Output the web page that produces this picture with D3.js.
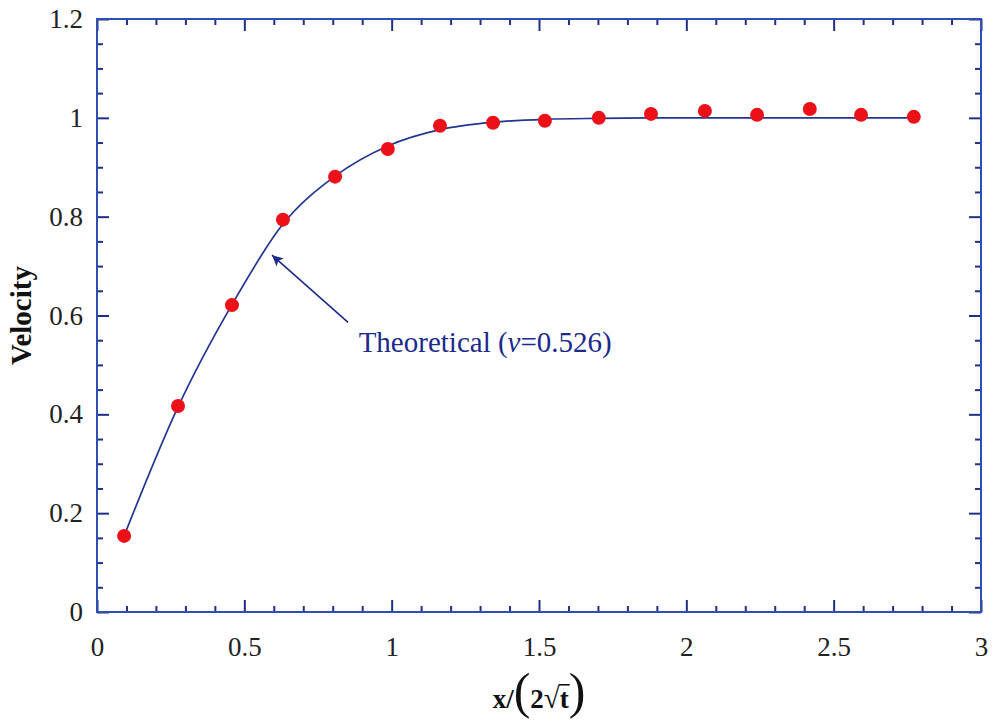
<!DOCTYPE html>
<html>
<head>
<meta charset="utf-8">
<script src="https://cdn.jsdelivr.net/npm/d3@7"></script>
<style>
  body { margin: 0; background: #fff; }
  svg { display: block; }
  .tick text { font-family: "Liberation Serif", "Times New Roman", serif; fill: #222; }
</style>
</head>
<body>
<div id="chart"></div>
<script>
// measured points
var measX = [0.092, 0.275, 0.458, 0.631, 0.808, 0.987, 1.164, 1.344, 1.520, 1.703, 1.880, 2.063, 2.240, 2.419, 2.593, 2.772];
var measY = [0.154, 0.417, 0.621, 0.794, 0.881, 0.937, 0.984, 0.990, 0.994, 1.000, 1.008, 1.014, 1.006, 1.018, 1.006, 1.002];

// theoretical curve
var theoX = [0.092, 0.275, 0.458, 0.631, 0.808, 0.987, 1.164, 1.344, 1.520, 1.703, 1.880, 2.063, 2.240, 2.419, 2.593, 2.772];
var theoY = [0.154, 0.415, 0.622, 0.785, 0.882, 0.943, 0.976, 0.991, 0.997, 0.999, 1.000, 1.000, 1.000, 1.000, 1.000, 1.000];

var xMajor = [0, 0.5, 1, 1.5, 2, 2.5, 3];
var xMinor = [0.1, 0.2, 0.3, 0.4, 0.6, 0.7, 0.8, 0.9, 1.1, 1.2, 1.3, 1.4, 1.6, 1.7, 1.8, 1.9, 2.1, 2.2, 2.3, 2.4, 2.6, 2.7, 2.8, 2.9];
var yMajor = [0, 0.2, 0.4, 0.6, 0.8, 1, 1.2];
var yMinor = [0.05, 0.1, 0.15, 0.25, 0.3, 0.35, 0.45, 0.5, 0.55, 0.65, 0.7, 0.75, 0.85, 0.9, 0.95, 1.05, 1.1, 1.15];

var W = 998, H = 725;
var MARGIN = {top: 19, right: 17, bottom: 113, left: 97},
    WIDTH = W - MARGIN.left - MARGIN.right,
    HEIGHT = H - MARGIN.top - MARGIN.bottom;

var FRAME = "#2f4fb0", TICK = "#1f2f85", NAVY = "#1c2a8c";

var svg = d3.select("#chart").append("svg")
  .attr("width", W).attr("height", H);

var g = svg.append("g")
  .attr("transform", "translate(" + MARGIN.left + "," + MARGIN.top + ")");

var x = d3.scaleLinear().domain([0, 3]).range([0, WIDTH]);
var y = d3.scaleLinear().domain([0, 1.2]).range([HEIGHT, 0]);

function styleAxis(sel, fs) {
  sel.select(".domain").remove();
  sel.selectAll(".tick line").attr("stroke", TICK).attr("stroke-width", 2);
  sel.selectAll(".tick text").style("font-size", fs + "px");
}

// major ticks with labels
g.append("g").attr("transform", "translate(0," + HEIGHT + ")")
  .call(d3.axisBottom(x).tickValues(xMajor).tickSizeInner(-12).tickSizeOuter(0).tickPadding(25)
    .tickFormat(function(d) { return d; }))
  .call(styleAxis, 27);
g.append("g")
  .call(d3.axisLeft(y).tickValues(yMajor).tickSizeInner(-12).tickSizeOuter(0).tickPadding(14)
    .tickFormat(function(d) { return d; }))
  .call(styleAxis, 27);
// mirrored major ticks
g.append("g")
  .call(d3.axisTop(x).tickValues(xMajor).tickSizeInner(-12).tickSizeOuter(0).tickFormat(""))
  .call(styleAxis, 1);
g.append("g").attr("transform", "translate(" + WIDTH + ",0)")
  .call(d3.axisRight(y).tickValues(yMajor).tickSizeInner(-12).tickSizeOuter(0).tickFormat(""))
  .call(styleAxis, 1);
// minor ticks on all four sides
g.append("g").attr("transform", "translate(0," + HEIGHT + ")")
  .call(d3.axisBottom(x).tickValues(xMinor).tickSizeInner(-6).tickSizeOuter(0).tickFormat(""))
  .call(styleAxis, 1);
g.append("g")
  .call(d3.axisTop(x).tickValues(xMinor).tickSizeInner(-6).tickSizeOuter(0).tickFormat(""))
  .call(styleAxis, 1);
g.append("g")
  .call(d3.axisLeft(y).tickValues(yMinor).tickSizeInner(-6).tickSizeOuter(0).tickFormat(""))
  .call(styleAxis, 1);
g.append("g").attr("transform", "translate(" + WIDTH + ",0)")
  .call(d3.axisRight(y).tickValues(yMinor).tickSizeInner(-6).tickSizeOuter(0).tickFormat(""))
  .call(styleAxis, 1);

// frame
g.append("rect")
  .attr("width", WIDTH).attr("height", HEIGHT)
  .attr("fill", "none").attr("stroke", FRAME).attr("stroke-width", 2);

// theoretical line
var line = d3.line()
  .x(function(d, i) { return x(theoX[i]); })
  .y(function(d) { return y(d); })
  .curve(d3.curveMonotoneX);

g.append("path")
  .datum(theoY)
  .attr("d", line)
  .attr("fill", "none")
  .attr("stroke", "#22368f")
  .attr("stroke-width", 1.7);

// measured points
g.selectAll(".pt")
  .data(measY)
  .enter().append("circle")
  .attr("class", "pt")
  .attr("cx", function(d, i) { return x(measX[i]); })
  .attr("cy", function(d) { return y(d); })
  .attr("r", 7)
  .attr("fill", "#ec1118");

// annotation
svg.append("defs").append("marker")
  .attr("id", "arrow")
  .attr("viewBox", "0 0 10 10")
  .attr("refX", 10).attr("refY", 5)
  .attr("markerWidth", 16).attr("markerHeight", 11)
  .attr("markerUnits", "userSpaceOnUse")
  .attr("orient", "auto")
  .append("path").attr("d", "M0,0L10,5L0,10L2.5,5Z").attr("fill", NAVY);

var annTail = [0.852, 0.586], annTip = [0.594, 0.722], annText = [0.888, 0.527];

g.append("line")
  .attr("x1", x(annTail[0])).attr("y1", y(annTail[1]))
  .attr("x2", x(annTip[0])).attr("y2", y(annTip[1]))
  .attr("stroke", NAVY).attr("stroke-width", 1.6)
  .attr("marker-end", "url(#arrow)");

var ann = g.append("text")
  .attr("x", x(annText[0])).attr("y", y(annText[1]))
  .attr("fill", NAVY)
  .style("font-family", "'Liberation Serif', 'Times New Roman', serif")
  .style("font-size", "29px");
ann.append("tspan").text("Theoretical (");
ann.append("tspan").style("font-style", "italic").text("\u03bd");
ann.append("tspan").text("=0.526)");

// y label
svg.append("text")
  .attr("transform", "translate(31," + (MARGIN.top + y(0.6)) + ") rotate(-90)")
  .attr("text-anchor", "middle")
  .style("font-family", "'Liberation Serif', 'Times New Roman', serif")
  .style("font-size", "29px")
  .style("font-weight", "bold")
  .attr("fill", "#111")
  .text("Velocity");

// x label: x/(2√t)
var xl = svg.append("text")
  .attr("x", MARGIN.left + x(1.5)).attr("y", 708)
  .attr("text-anchor", "middle")
  .attr("fill", "#111")
  .style("font-family", "'Liberation Serif', 'Times New Roman', serif")
  .style("font-size", "27px")
  .style("font-weight", "bold");
xl.append("tspan").text("x/");
xl.append("tspan").style("font-size", "50px").style("font-weight", "normal").text("(");
xl.append("tspan").text("2");
xl.append("tspan").style("font-weight", "normal").style("font-size", "29px").text("\u221a");
xl.append("tspan").text("t");
xl.append("tspan").style("font-size", "50px").style("font-weight", "normal").text(")");

// overbar of the radical
var node = xl.node();
var rad = node.getExtentOfChar(4);
var tEnd = node.getEndPositionOfChar(5);
var barY = 708 - 29 * 0.80;
svg.append("line")
  .attr("x1", rad.x + rad.width - 1).attr("x2", tEnd.x + 1)
  .attr("y1", barY).attr("y2", barY)
  .attr("stroke", "#111").attr("stroke-width", 1.6);
</script>
</body>
</html>
